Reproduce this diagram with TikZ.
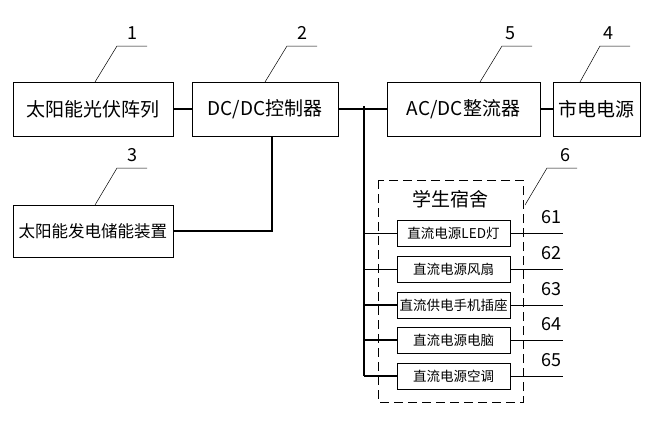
\documentclass[tikz,border=0pt]{standalone}
\usepackage{fontspec}
\setmainfont{Noto Sans CJK SC}
\begin{document}
\begin{tikzpicture}[x=1pt,y=-1pt,
  box/.style={draw,line width=0.7pt,inner sep=0pt,font=\fontsize{19}{19}\selectfont},
  item/.style={draw,line width=0.7pt,inner sep=0pt,font=\fontsize{13.5}{14}\selectfont},
  wire/.style={line width=1.3pt},
  lead/.style={line width=0.5pt},
  num/.style={font=\fontsize{18}{18}\selectfont,inner sep=0pt}]
\useasboundingbox (0,0) rectangle (662,447);
\node[box,minimum width=160,minimum height=54] (b1) at (93,109) {太阳能光伏阵列};
\node[box,minimum width=146,minimum height=54] (b2) at (265,109) {DC/DC控制器};
\node[box,minimum width=153,minimum height=54] (b5) at (463.5,109) {AC/DC整流器};
\node[box,minimum width=87,minimum height=54] (b4) at (596.5,109) {市电电源};
\node[box,minimum width=160,minimum height=52,font=\fontsize{16.5}{17}\selectfont] (b3) at (93,231) {太阳能发电储能装置};
\draw[wire] (b1.east) -- (b2.west);
\draw[wire] (b2.east) -- (b5.west);
\draw[wire] (b5.east) -- (b4.west);
\draw[wire] (b3.east) -| (272,136) -- (b2.south -| 272,0);
\draw[dashed,dash pattern=on 9pt off 5pt,line width=0.6pt] (378,180) rectangle (523,402);
\node[font=\fontsize{19}{19}\selectfont,inner sep=0pt] (t6) at (450,199) {学生宿舍};
\coordinate (bus0) at (364,106);
\foreach \y/\t/\n in {233.5/直流电源LED灯/61,269.5/直流电源风扇/62,305/直流供电手机插座/63,340/直流电源电脑/64,376/直流电源空调/65}{
  \node[item,minimum width=113,minimum height=26] (i\n) at (453.5,\y) {\t};
  \draw[wire] (364,\y) -- (i\n.west);
  \coordinate (e\n) at (563,\y);
  \draw[lead] (i\n.east) -- (e\n);
  \node[num] (n\n) at (551,\y-16) {\n};
}
\draw[wire] (bus0) -- (364,376);
\foreach \a/\b/\c/\n/\lx in {95/117/147/1/132,265/287/317/2/302,480/502/532/5/510,580/600/630/4/608}{
  \draw[lead] (\a,82) -- (\b,46) -- (\c,46);
  \node[num] at (\lx,33) {\n};
}
\draw[lead] (95,205) -- (117,168) -- (147,168);
\node[num] at (132,155) {3};
\draw[lead] (525,205) -- (547,168) -- (577,168);
\node[num] at (565,155) {6};
\end{tikzpicture}
\end{document}
